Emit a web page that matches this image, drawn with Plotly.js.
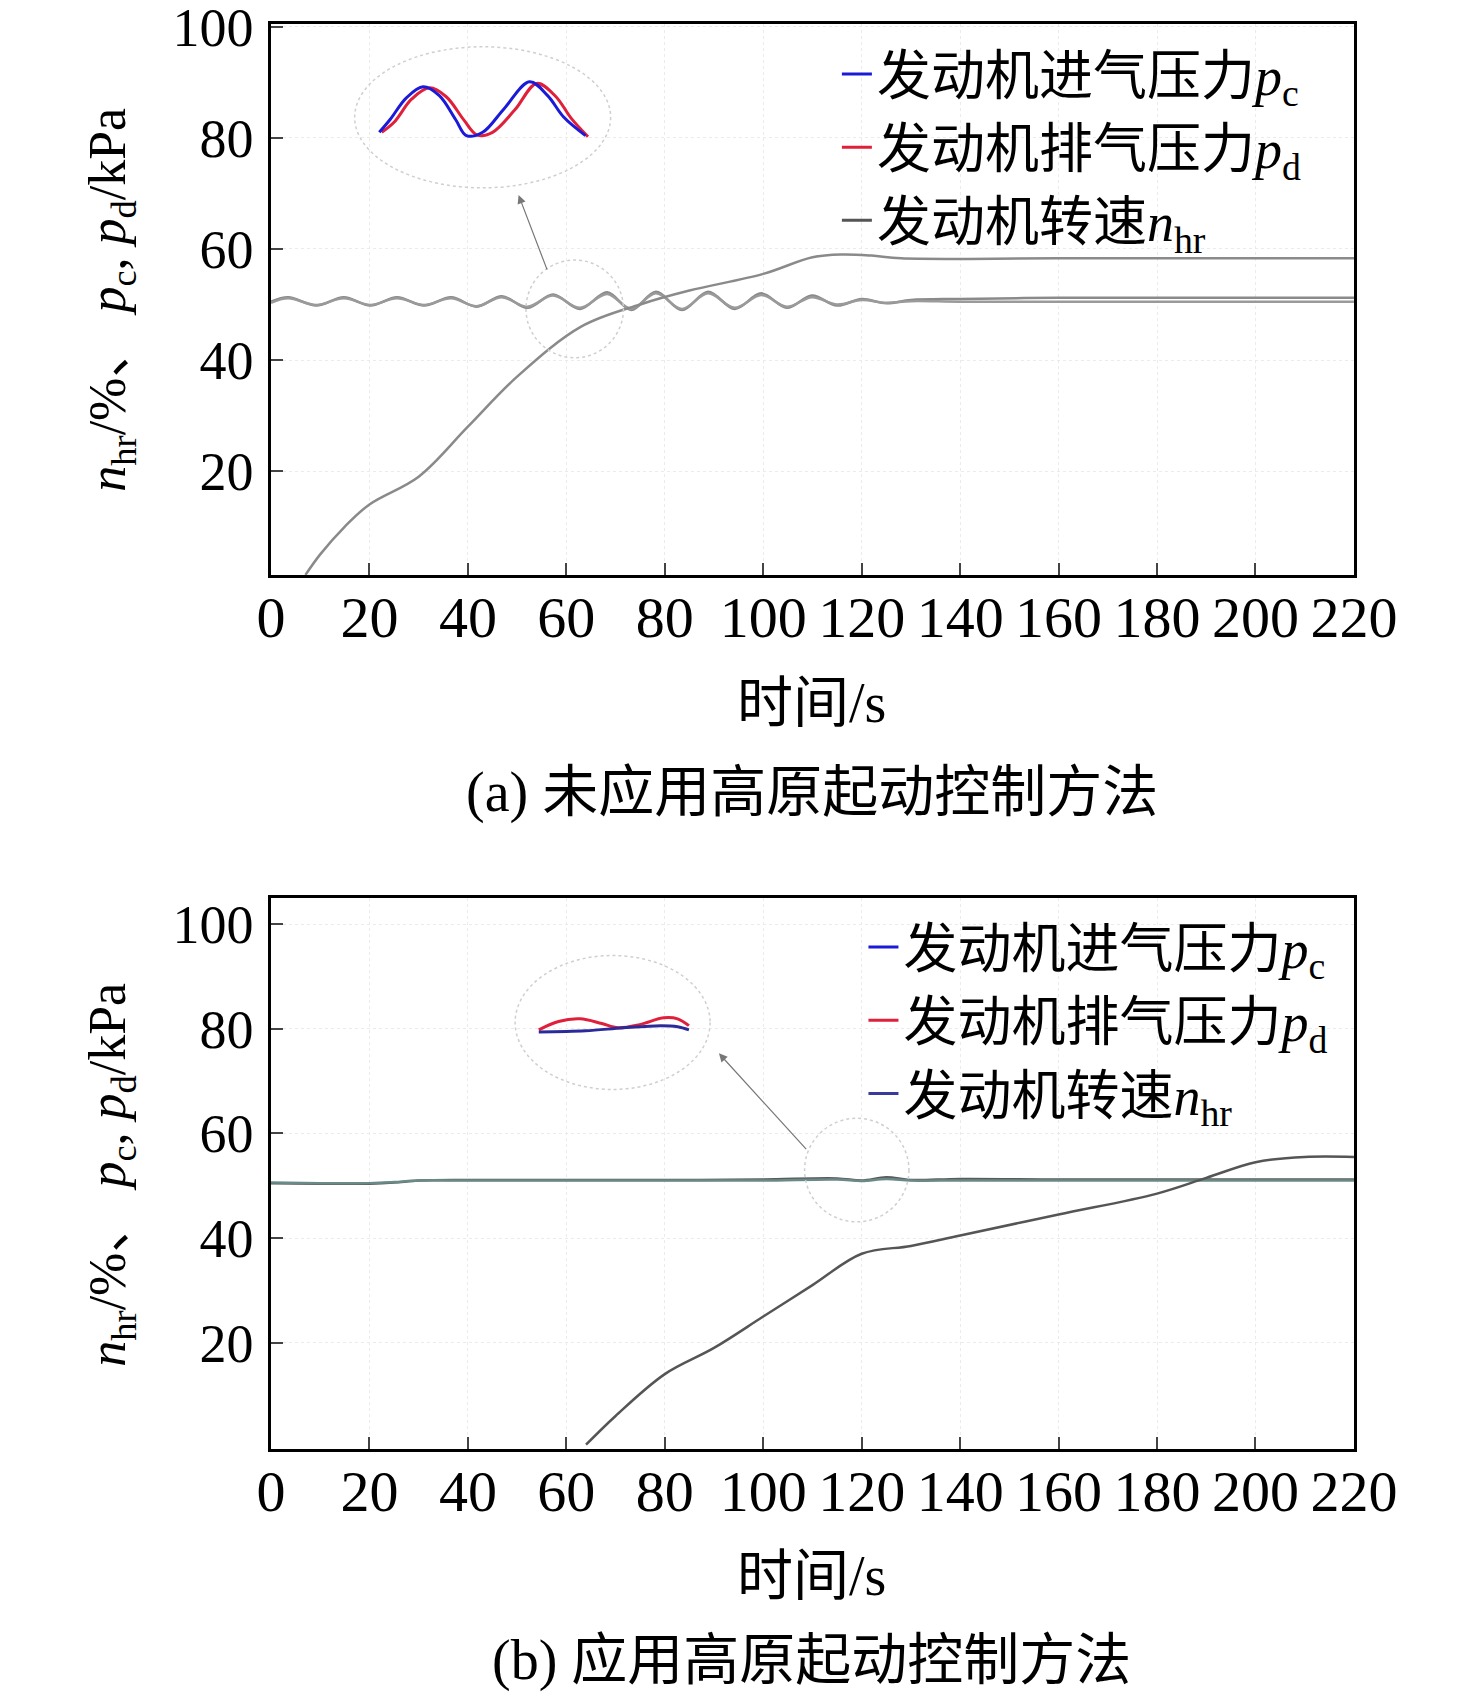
<!DOCTYPE html>
<html>
<head>
<meta charset="utf-8">
<script src="https://cdn.plot.ly/plotly-3.0.1.min.js"></script>
<style>body{margin:0;background:#fff}</style>
</head>
<body>
<div id="plot" style="width:1476px;height:1702px"></div>
<script>
// (a) without plateau start control
const tA = [0, 3.5, 9.2, 14.8, 20.2, 25.6, 31.1, 36.6, 41.8, 46.9, 52.1, 57.3, 62.8, 68.3, 73.2, 78.2, 83.5, 88.8, 94.2, 99.6, 104.8, 109.9, 115, 120, 125, 130, 140, 160, 180, 200, 220];
const pcA = [50.5, 51.3, 49.8, 51.3, 49.8, 51.3, 49.8, 51.3, 49.6, 51.5, 49.4, 51.8, 49.2, 52.2, 49.0, 52.3, 49.0, 52.3, 49.2, 52.0, 49.4, 51.6, 49.8, 51.0, 50.2, 50.8, 51.0, 51.2, 51.2, 51.2, 51.2];
const pdA = [50.3, 51.1, 49.9, 51.1, 49.9, 51.1, 49.9, 51.1, 49.7, 51.3, 49.6, 51.6, 49.4, 51.9, 49.2, 52.0, 49.2, 52.0, 49.4, 51.7, 49.6, 51.3, 50.0, 50.8, 50.3, 50.6, 50.5, 50.5, 50.5, 50.5, 50.5];
const tNA = [7, 10, 15, 20, 30, 40, 50, 63, 75, 85, 100, 110, 116, 122, 128, 160, 220];
const nA = [1.3, 5, 10, 14, 19, 28, 37, 46, 50, 52.5, 55.5, 58.5, 59, 58.8, 58.3, 58.3, 58.3];
// inset (a)
const insAx = [22, 24.2, 27.5, 30.9, 34.2, 37.5, 39.7, 43, 47.4, 52.5, 56.2, 59.5, 63.9];
const insApc = [81, 83.3, 87.2, 89.2, 87.6, 83.3, 80.4, 81, 85.3, 90.1, 87.6, 83.7, 80.4];
const insAxd = [22.5, 25, 28.6, 32.2, 35.6, 39.2, 41.9, 45, 49.5, 54, 57.8, 61, 64.4];
const insApd = [81, 82.8, 87, 89, 87.4, 83.2, 80.5, 81, 85, 89.8, 87.5, 83.5, 80.2];

// (b) with plateau start control
const tB = [0, 10, 20, 25, 30, 40, 60, 80, 100, 115, 120, 125, 130, 140, 160, 180, 200, 220];
const pcB = [50.5, 50.4, 50.4, 50.6, 51.0, 51.1, 51.1, 51.1, 51.2, 51.4, 51.0, 51.6, 51.1, 51.3, 51.2, 51.2, 51.2, 51.2];
const pdB = [50.6, 50.5, 50.5, 50.7, 51.0, 51.0, 51.0, 51.0, 51.0, 51.2, 50.9, 51.3, 51.0, 51.0, 51.0, 51.0, 51.0, 51.0];
const tNB = [64, 70, 80, 90, 100, 110, 120, 130, 140, 160, 180, 190, 200, 210, 220];
const nB = [0.5, 6, 14, 19, 25, 31, 37, 38.5, 40.5, 44.5, 48.5, 51.5, 54.5, 55.5, 55.5];
const insBxr = [54.4, 58.4, 62.8, 67.2, 70.5, 74.9, 79.8, 82.6, 84.9];
const insBpd = [79.8, 81.4, 81.9, 81, 80.2, 80.8, 82.1, 81.9, 80.6];
const insBxb = [54.4, 63.9, 71.6, 79.3, 82.6, 84.9];
const insBpc = [79.4, 79.6, 80.2, 80.6, 80.4, 79.8];

const names = ['发动机进气压力<i>p</i><sub>c</sub>', '发动机排气压力<i>p</i><sub>d</sub>', '发动机转速<i>n</i><sub>hr</sub>'];
const FONT = 'Liberation Serif, Noto Sans CJK SC, serif';

const data = [
  {x: tA, y: pcA, xaxis: 'x', yaxis: 'y', mode: 'lines', line: {color: '#8a8a8a', width: 2.5, shape: 'spline'}, showlegend: false},
  {x: tA, y: pdA, xaxis: 'x', yaxis: 'y', mode: 'lines', line: {color: '#9a9a9a', width: 2.5, shape: 'spline'}, showlegend: false},
  {x: tNA, y: nA, xaxis: 'x', yaxis: 'y', mode: 'lines', line: {color: '#8a8a8a', width: 2.5, shape: 'spline'}, showlegend: false},
  {x: insAxd, y: insApd, xaxis: 'x', yaxis: 'y', mode: 'lines', line: {color: '#e0203a', width: 3, shape: 'spline'}, showlegend: false},
  {x: insAx, y: insApc, xaxis: 'x', yaxis: 'y', mode: 'lines', line: {color: '#1a1ad8', width: 3, shape: 'spline'}, showlegend: false},
  {x: [null], y: [null], xaxis: 'x', yaxis: 'y', mode: 'lines', name: names[0], line: {color: '#1a1ad8', width: 3}, legend: 'legend'},
  {x: [null], y: [null], xaxis: 'x', yaxis: 'y', mode: 'lines', name: names[1], line: {color: '#e0203a', width: 3}, legend: 'legend'},
  {x: [null], y: [null], xaxis: 'x', yaxis: 'y', mode: 'lines', name: names[2], line: {color: '#555555', width: 3}, legend: 'legend'},

  {x: tB, y: pcB, xaxis: 'x2', yaxis: 'y2', mode: 'lines', line: {color: '#5a5a5a', width: 2.5, shape: 'spline'}, showlegend: false},
  {x: tB, y: pdB, xaxis: 'x2', yaxis: 'y2', mode: 'lines', line: {color: '#6a8a88', width: 2.5, shape: 'spline'}, showlegend: false},
  {x: tNB, y: nB, xaxis: 'x2', yaxis: 'y2', mode: 'lines', line: {color: '#555555', width: 2.5, shape: 'spline'}, showlegend: false},
  {x: insBxr, y: insBpd, xaxis: 'x2', yaxis: 'y2', mode: 'lines', line: {color: '#e0203a', width: 3, shape: 'spline'}, showlegend: false},
  {x: insBxb, y: insBpc, xaxis: 'x2', yaxis: 'y2', mode: 'lines', line: {color: '#2a2a9a', width: 3, shape: 'spline'}, showlegend: false},
  {x: [null], y: [null], xaxis: 'x2', yaxis: 'y2', mode: 'lines', name: names[0], line: {color: '#1a1ad8', width: 3}, legend: 'legend2'},
  {x: [null], y: [null], xaxis: 'x2', yaxis: 'y2', mode: 'lines', name: names[1], line: {color: '#e0203a', width: 3}, legend: 'legend2'},
  {x: [null], y: [null], xaxis: 'x2', yaxis: 'y2', mode: 'lines', name: names[2], line: {color: '#3a3a9a', width: 3}, legend: 'legend2'}
];

const xax = (dom, anchor) => ({
  domain: dom, anchor: anchor, range: [0, 220], tickvals: [0, 20, 40, 60, 80, 100, 120, 140, 160, 180, 200, 220],
  ticks: 'inside', ticklen: 12, tickwidth: 2, showline: true, linewidth: 2.5, linecolor: '#000', mirror: true,
  showgrid: true, gridcolor: '#ebebeb', griddash: 'dot', zeroline: false, ticklabeloverflow: 'allow',
  tickfont: {family: FONT, size: 58, color: '#000'}, ticklabelstandoff: -10
});
const yax = (dom, anchor, rng) => ({
  domain: dom, anchor: anchor, range: rng, tickvals: [20, 40, 60, 80, 100],
  ticks: 'inside', ticklen: 12, tickwidth: 2, showline: true, linewidth: 2.5, linecolor: '#000', mirror: true,
  showgrid: true, gridcolor: '#ebebeb', griddash: 'dot', zeroline: false, ticklabeloverflow: 'allow',
  tickfont: {family: FONT, size: 54, color: '#000'}, ticklabelstandoff: 4
});

const circ = (xr, yr, cx, cy, rx, ry) => ({type: 'circle', xref: xr, yref: yr, x0: cx - rx, x1: cx + rx, y0: cy - ry, y1: cy + ry, line: {color: '#cfcfcf', width: 1.5, dash: 'dot'}});
const ytitle = '<i>n</i><sub>hr</sub>/%、 <i>p</i><sub>c</sub>, <i>p</i><sub>d</sub>/kPa';
const txt = (s, x, y, extra) => Object.assign({text: s, xref: 'paper', yref: 'paper', x: x, y: y, xanchor: 'center', yanchor: 'middle', showarrow: false, font: {family: FONT, size: 56, color: '#000'}}, extra || {});
const arrow = (xr, yr, x, y, ax, ay) => ({xref: xr, yref: yr, axref: xr, ayref: yr, x: x, y: y, ax: ax, ay: ay, text: '', showarrow: true, arrowhead: 2, arrowsize: 1.4, arrowwidth: 1.2, arrowcolor: '#777'});
const legFont = {family: FONT, size: 54, color: '#000'};

const layout = {
  width: 1476, height: 1702, margin: {l: 0, r: 0, t: 0, b: 0},
  paper_bgcolor: '#fff', plot_bgcolor: '#fff',
  xaxis: xax([0.1836, 0.9173], 'y'),
  yaxis: yax([0.6622, 0.9859], 'x', [1.3, 100.5]),
  xaxis2: xax([0.1836, 0.9173], 'y2'),
  yaxis2: yax([0.1487, 0.4724], 'x2', [-0.3, 105]),
  legend: {x: 0.567, y: 0.981, xanchor: 'left', yanchor: 'top', bgcolor: 'rgba(0,0,0,0)', font: legFont, tracegroupgap: 0},
  legend2: {x: 0.585, y: 0.468, xanchor: 'left', yanchor: 'top', bgcolor: 'rgba(0,0,0,0)', font: legFont, tracegroupgap: 0},
  shapes: [
    circ('x', 'y', 43, 83.7, 26, 12.7),
    circ('x', 'y', 61.7, 49.2, 9.9, 8.8),
    circ('x2', 'y2', 69.4, 81.2, 19.8, 12.8),
    circ('x2', 'y2', 119, 53, 10.6, 9.9)
  ],
  annotations: [
    arrow('x', 'y', 50.3, 69.7, 56.2, 56),
    arrow('x2', 'y2', 91, 75.3, 109, 56.7),
    txt(ytitle, 0.075, 1 - 300 / 1702, {textangle: -90, font: {family: FONT, size: 52, color: '#000'}}),
    txt(ytitle, 0.075, 1 - 1175 / 1702, {textangle: -90, font: {family: FONT, size: 52, color: '#000'}}),
    txt('时间/s', 0.55, 1 - 703 / 1702),
    txt('(a) 未应用高原起动控制方法', 0.55, 1 - 792 / 1702),
    txt('时间/s', 0.55, 1 - 1576 / 1702),
    txt('(b) 应用高原起动控制方法', 0.55, 1 - 1660 / 1702)
  ]
};

Plotly.newPlot('plot', data, layout, {displayModeBar: false});
</script>
</body>
</html>
